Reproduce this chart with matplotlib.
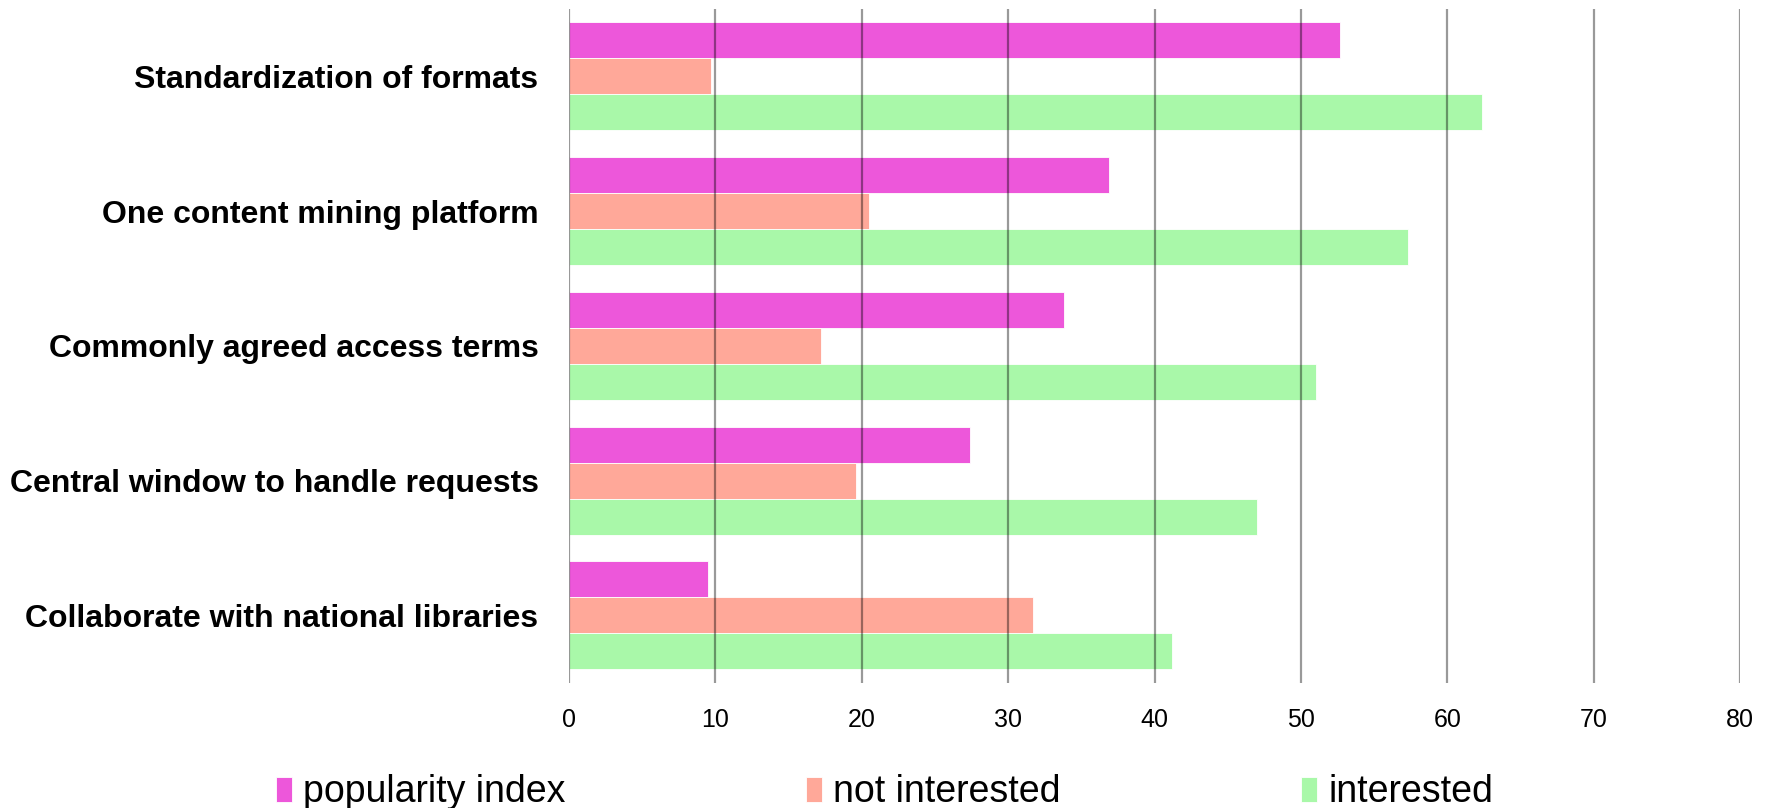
import matplotlib
matplotlib.use("Agg")
import matplotlib.pyplot as plt
import numpy as np

plt.rcParams['font.family'] = ['Liberation Sans', 'DejaVu Sans']

# data
categories = ["Standardization of formats",
              "One content mining platform",
              "Commonly agreed access terms",
              "Central window to handle requests",
              "Collaborate with national libraries"]
popularity_index = [52.7, 36.9, 33.8, 27.4, 9.5]
not_interested = [9.7, 20.5, 17.2, 19.6, 31.7]
interested = [62.4, 57.3, 51.0, 47.0, 41.2]

series_names = ["popularity index", "not interested", "interested"]
series_colors = ["#ED57DA", "#FFA899", "#A9F8A9"]
x_ticks = np.arange(0, 81, 10)

fig = plt.figure(figsize=(17.69, 8.08), dpi=100)
ax = fig.add_axes([0.3217, 0.155, 0.6619, 0.834])

y = np.arange(len(categories))
bh = 0.267
for i, (vals, name, col) in enumerate(zip([popularity_index, not_interested, interested],
                                          series_names, series_colors)):
    ax.barh(y + (i - 1) * bh, vals, height=bh, color=col, label=name,
            edgecolor="white", linewidth=0.6, zorder=2)

ax.set_xlim(0, 80)
ax.set_ylim(len(categories) - 0.5, -0.5)
ax.set_xticks(x_ticks)
ax.set_yticks(y)
ax.set_yticklabels(categories, fontsize=23, fontweight="bold")
ax.tick_params(axis="y", length=0, pad=22)
ax.tick_params(axis="x", length=0, pad=18, labelsize=18)

# gridlines over the bars, semi-transparent
for xv in x_ticks:
    ax.axvline(xv, color="black", alpha=0.4, linewidth=1.6, zorder=3)
for s in ax.spines.values():
    s.set_visible(False)

fig.legend(loc="lower center", bbox_to_anchor=(0.5, -0.003), ncol=3, frameon=False,
           fontsize=27, handlelength=0.43, handleheight=0.67, handletextpad=0.3,
           columnspacing=6.4, borderpad=0, borderaxespad=0)

fig.savefig("out.png", dpi=100)
